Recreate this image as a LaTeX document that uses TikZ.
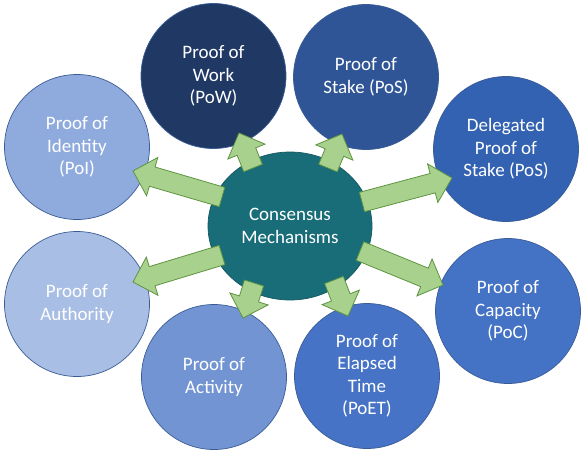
\documentclass[tikz,border=0pt]{standalone}
\usepackage{fontspec}
\setmainfont{Carlito}
\usetikzlibrary{shapes.geometric,calc}
\definecolor{cPoW}{HTML}{203864}
\definecolor{cPoS}{HTML}{2F5597}
\definecolor{cDPoS}{HTML}{3262B1}
\definecolor{cPoC}{HTML}{4472C4}
\definecolor{cPoET}{HTML}{4673C5}
\definecolor{cAct}{HTML}{7294D2}
\definecolor{cAuth}{HTML}{A8BEE4}
\definecolor{cIdent}{HTML}{8FAADC}
\definecolor{cCore}{HTML}{186D79}
\definecolor{cBorder}{HTML}{3A5C96}
\definecolor{cArrow}{HTML}{A9D18E}
\definecolor{cArrowB}{HTML}{5E9440}
\tikzset{
  outer/.style={circle, minimum size=145pt, inner sep=0pt, draw=cBorder, line width=0.7pt,
    text=white, align=center, font=\fontsize{19}{22.5}\selectfont},
  core/.style={ellipse, minimum width=164pt, minimum height=148pt, inner sep=0pt,
    fill=cCore, draw=cCore!80!black, line width=0.7pt, text=white, align=center,
    font=\fontsize{19}{22.5}\selectfont},
  fat/.style={fill=cArrow, draw=cArrowB, line width=0.8pt, line join=miter}
}
\newcommand{\fatarrow}[2]{%
  \coordinate (#1#2b) at ($(#2)!20pt!(#1)$);
  \draw[fat] ($(#1)!10pt!90:(#2)$) -- ($(#1#2b)!10pt!-90:(#1)$) -- ($(#1#2b)!20pt!-90:(#1)$)
    -- (#2) -- ($(#1#2b)!20pt!90:(#1)$) -- ($(#1#2b)!10pt!90:(#1)$)
    -- ($(#1)!10pt!-90:(#2)$) -- cycle;
}
\begin{document}
\begin{tikzpicture}[x=1pt,y=-1pt]
\useasboundingbox[fill=white] (0,0) rectangle (588,456);
% outer circles
\node[outer, fill=cPoW]   (pow)   at (213.5,76) {Proof of\\Work\\(PoW)};
\node[outer, fill=cPoS]   (pos)   at (366,77)   {Proof of\\Stake (PoS)};
\node[outer, fill=cDPoS]  (dpos)  at (506,149)  {Delegated\\Proof of\\Stake (PoS)};
\node[outer, fill=cPoC]   (poc)   at (508,311)  {Proof of\\Capacity\\(PoC)};
\node[outer, fill=cPoET]  (poet)  at (367,376)  {Proof of\\Elapsed\\Time\\(PoET)};
\node[outer, fill=cAct]   (act)   at (214,377)  {Proof of\\Activity};
\node[outer, fill=cAuth]  (auth)  at (77,304)   {Proof of\\Authority};
\node[outer, fill=cIdent] (ident) at (77,147)   {Proof of\\Identity\\(PoI)};
% center
\node[core] (cm) at (290,226) {Consensus\\Mechanisms};
% arrow end points
\coordinate (sI) at (222,197);  \coordinate (eI) at (133,171);
\coordinate (sW) at (253,168);  \coordinate (eW) at (239,133);
\coordinate (sS) at (328,168);  \coordinate (eS) at (342,134);
\coordinate (sD) at (362,202);  \coordinate (eD) at (452,178);
\coordinate (sC) at (360,251);  \coordinate (eC) at (443,285);
\coordinate (sT) at (334,280);  \coordinate (eT) at (348,316);
\coordinate (sA) at (254,283);  \coordinate (eA) at (243,318);
\coordinate (sU) at (222,255);  \coordinate (eU) at (133,282);
\fatarrow{sI}{eI}
\fatarrow{sW}{eW}
\fatarrow{sS}{eS}
\fatarrow{sD}{eD}
\fatarrow{sC}{eC}
\fatarrow{sT}{eT}
\fatarrow{sA}{eA}
\fatarrow{sU}{eU}
\end{tikzpicture}
\end{document}
